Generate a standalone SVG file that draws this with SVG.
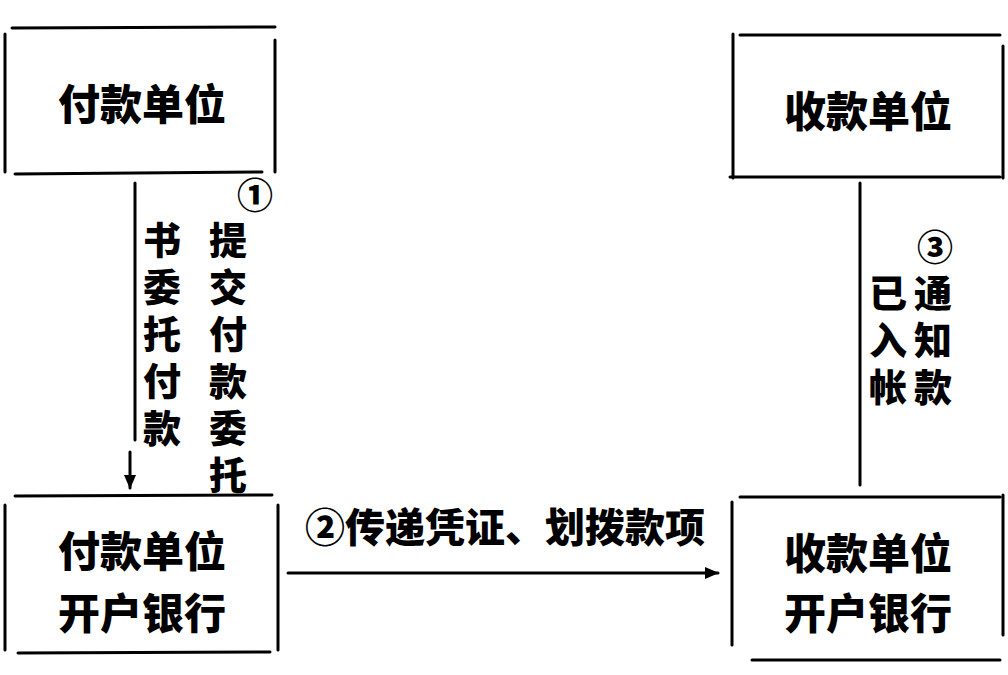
<svg xmlns="http://www.w3.org/2000/svg" width="1008" height="675" viewBox="0 0 1008 675">
<style>
.b{stroke:#000;stroke-width:3;fill:none;stroke-linecap:round}
.t{font-family:"Noto Sans CJK SC","Noto Sans CJK JP",sans-serif;font-weight:900;font-size:42px;fill:#000;text-anchor:middle;dominant-baseline:central}
.v{font-family:"Noto Sans CJK SC","Noto Sans CJK JP",sans-serif;font-weight:900;font-size:38px;fill:#000;writing-mode:vertical-rl;letter-spacing:9px}
.n{font-family:"Noto Sans CJK SC","Noto Sans CJK JP",sans-serif;font-weight:900;font-size:36px;fill:#000;text-anchor:middle;dominant-baseline:central}
</style>
<defs>
<marker id="ah" markerWidth="14" markerHeight="12" refX="13" refY="6" orient="auto" markerUnits="userSpaceOnUse">
<path d="M0,0 L14,6 L0,12 Z" fill="#000"/>
</marker>
</defs>
<rect width="1008" height="675" fill="#fff"/>
<g id="payer">
<path class="b" d="M12,28 L275,27 M5,34 L5,172 M275,40 L275,172 M15,174 L262,172"/>
<text class="t" x="142" y="101">付款单位</text>
</g>
<g id="payee">
<path class="b" d="M740,35 L1000,35 M733,34 L733,178 M1003,46 L1003,178 M730,177 L1000,177"/>
<text class="t" x="868" y="108">收款单位</text>
</g>
<g id="payer_bank">
<path class="b" d="M15,496 L272,495 M5,505 L5,650 M278,505 L278,650 M18,653 L270,652"/>
<text class="t" x="142" y="548">付款单位</text>
<text class="t" x="142" y="610">开户银行</text>
</g>
<g id="payee_bank">
<path class="b" d="M740,497 L1000,497 M732,502 L732,645 M1003,495 L1003,635 M752,660 L1000,660"/>
<text class="t" x="868" y="550">收款单位</text>
<text class="t" x="868" y="610">开户银行</text>
</g>
<g id="connectors">
<path class="b" d="M135,183 L135,440"/>
<path class="b" d="M130,452 L130,488" marker-end="url(#ah)"/>
<path class="b" d="M860,183 L860,485"/>
<path class="b" d="M288,573 L718,573" marker-end="url(#ah)"/>
</g>
<g id="labels">
<text class="n" x="255" y="193">①</text>
<text class="v" x="162" y="221">书委托付款</text>
<text class="v" x="228" y="221">提交付款委托</text>
<text class="n" x="935" y="245">③</text>
<text class="v" x="888" y="274">已入帐</text>
<text class="v" x="933" y="274">通知款</text>
<text class="t" x="505" y="525" style="font-size:40px">②传递凭证、划拨款项</text>
</g>
</svg>
